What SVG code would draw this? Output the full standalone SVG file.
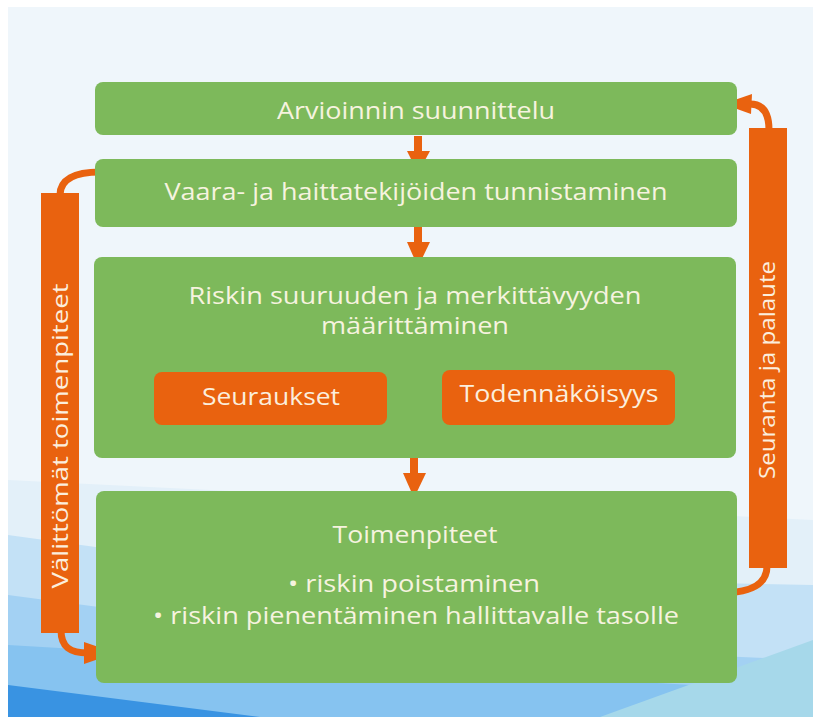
<svg xmlns="http://www.w3.org/2000/svg" width="813" height="717" viewBox="0 0 813 717">
<style>
.box{fill:#7db95b}
.obox{fill:#e9620f}
.t{font-family:"Open Sans","Liberation Sans",sans-serif;fill:#f6f3df;text-anchor:middle;font-size:23px}
.to{font-family:"Open Sans","Liberation Sans",sans-serif;fill:#fbeedd;text-anchor:middle;font-size:24px}
.tv{font-family:"Open Sans","Liberation Sans",sans-serif;fill:#fbeedd;text-anchor:middle;font-size:21px}
.bar{fill:#e9620f}
.curve{fill:none;stroke:#e9620f;stroke-width:7;stroke-linecap:round}
.head{fill:#e9620f}
</style>
<rect x="0" y="0" width="813" height="717" fill="#ffffff"/>
<g id="background">
<rect x="8" y="7" width="805" height="710" fill="#eff6fb"/>
<polygon points="8,480 813,520 813,717 8,717" fill="#e3f0f9"/>
<polygon points="8,535 300,575 813,585 813,717 8,717" fill="#c3e1f6"/>
<polygon points="8,595 350,640 813,660 813,717 8,717" fill="#a3d1f3"/>
<polygon points="8,645 813,692 813,717 8,717" fill="#86c3f0"/>
<polygon points="600,717 813,640 813,717" fill="#a6d8ea"/>
<polygon points="8,685 260,717 8,717" fill="#3993e2"/>
</g>
<g id="connectors">
<rect x="414" y="136" width="8" height="17" class="bar"/>
<polygon points="407,151 430,151 418,173" class="head"/>
<rect x="414" y="227" width="8" height="17" class="bar"/>
<polygon points="407,242 430,242 418,267" class="head"/>
<rect x="410" y="458" width="8" height="17" class="bar"/>
<polygon points="403,473 426,473 414,498" class="head"/>
<path d="M60,195 C60,180 74,172 100,172" class="curve"/>
<path d="M61,630 C61,647 70,653 88,653" class="curve"/>
<polygon points="84,642 116,653 84,664" class="head"/>
<path d="M769,130 C769,113 763,104 750,104" class="curve"/>
<polygon points="752,94 723,104 751,114" class="head"/>
<path d="M767,566 C767,584 752,592 724,593" class="curve"/>
</g>
<g id="n1">
<rect x="95" y="82" width="642" height="53" rx="8" class="box"/>
<text x="416" y="119" class="t" textLength="278" lengthAdjust="spacingAndGlyphs">Arvioinnin suunnittelu</text>
</g>
<g id="n2">
<rect x="95" y="159" width="642" height="68" rx="8" class="box"/>
<text x="416" y="200" class="t" textLength="503" lengthAdjust="spacingAndGlyphs">Vaara- ja haittatekijöiden tunnistaminen</text>
</g>
<g id="n3">
<rect x="94" y="257" width="642" height="201" rx="8" class="box"/>
<text x="415" y="304" class="t" textLength="453" lengthAdjust="spacingAndGlyphs">Riskin suuruuden ja merkittävyyden</text>
<text x="415" y="334" class="t" textLength="188" lengthAdjust="spacingAndGlyphs">määrittäminen</text>
</g>
<g id="n3a">
<rect x="154" y="372" width="233" height="53" rx="8" class="obox"/>
<text x="271" y="405" class="to" textLength="138" lengthAdjust="spacingAndGlyphs">Seuraukset</text>
</g>
<g id="n3b">
<rect x="442" y="370" width="233" height="55" rx="8" class="obox"/>
<text x="559" y="402" class="to" textLength="199" lengthAdjust="spacingAndGlyphs">Todennäköisyys</text>
</g>
<g id="n4">
<rect x="96" y="491" width="641" height="192" rx="8" class="box"/>
<text x="415" y="543" class="t" textLength="165" lengthAdjust="spacingAndGlyphs">Toimenpiteet</text>
<text x="414" y="592" class="t" textLength="252" lengthAdjust="spacingAndGlyphs">• riskin poistaminen</text>
<text x="416" y="624" class="t" textLength="526" lengthAdjust="spacingAndGlyphs">• riskin pienentäminen hallittavalle tasolle</text>
</g>
<g id="left-bar">
<rect x="41" y="193" width="38" height="440" class="bar"/>
<text x="0" y="0" class="tv" transform="translate(68,436) rotate(-90)" textLength="305" lengthAdjust="spacingAndGlyphs">Välittömät toimenpiteet</text>
</g>
<g id="right-bar">
<rect x="749" y="128" width="38" height="440" class="bar"/>
<text x="0" y="0" class="tv" transform="translate(775,370) rotate(-90)" textLength="218" lengthAdjust="spacingAndGlyphs">Seuranta ja palaute</text>
</g>
</svg>
